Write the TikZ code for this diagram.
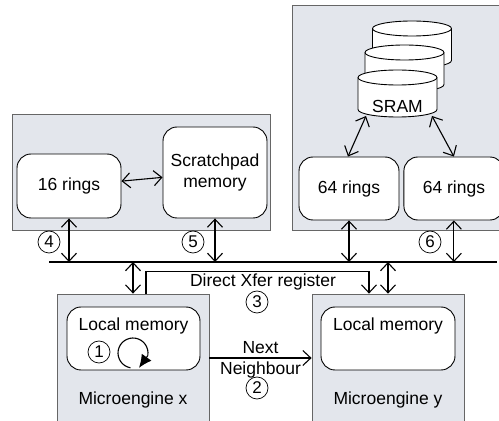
\documentclass[tikz,border=0pt]{standalone}
\usepackage{fontspec}
\setmainfont{Liberation Sans}
\usepackage{tikz}
\usetikzlibrary{
	positioning,
	arrows.meta,
	calc
}
\definecolor{boxgray}{HTML}{E3E6EC}

\tikzset{
	block/.style={draw=black!60, fill=boxgray, line width=0.8pt, inner sep=0pt},
	mem/.style={draw, fill=white, rounded corners=14pt, line width=0.9pt, inner sep=0pt, align=center},
	num/.style={draw, circle, minimum size=22pt, inner sep=0pt, line width=0.7pt, font=\fontsize{17}{17}\selectfont},
	barb/.tip={Straight Barb[length=8pt,width=15pt]},
	link/.style={barb-barb, line width=1.1pt},
	onelink/.style={-barb, line width=1.1pt},
	bus/.style={line width=2.4pt}
}

\begin{document}
\begin{tikzpicture}[x=1pt, y=1pt, font=\fontsize{17.5}{21}\selectfont]
	\clip (0,0) rectangle (499,421);

	% shaded blocks
	\node [block, minimum width=258pt, minimum height=116pt] (scratch) at (141,249)   {};
	\node [block, minimum width=213pt, minimum height=225pt] (sramblk) at (398.5,303.5) {};
	\node [block, minimum width=152pt, minimum height=132pt] (mex)     at (133,61)    {};
	\node [block, minimum width=152pt, minimum height=132pt] (mey)     at (388,61)    {};

	% memories and rings
	\node [mem, minimum width=104pt, minimum height=64pt]  (rings16) at (69,235)    {16 rings};
	\node [mem, minimum width=104pt, minimum height=91pt]  (spad)    at (215,248.5) {Scratchpad\\memory};
	\node [mem, minimum width=100pt, minimum height=63pt]  (ringsa)  at (349,232.5) {64 rings};
	\node [mem, minimum width=100pt, minimum height=63pt, right=4pt of ringsa] (ringsb) {64 rings};
	\node [mem, minimum width=133pt, minimum height=63pt]  (lmx)     at (133.5,82.5) {};
	\node [mem, minimum width=134pt, minimum height=63pt]  (lmy)     at (388,82.5)   {};
	\node [below=8pt of lmx.north, anchor=north] (lmxt) {Local memory};
	\node [below=8pt of lmy.north, anchor=north] (lmyt) {Local memory};
	\node at (133,21) (mext) {Microengine x};
	\node at (388,21) (meyt) {Microengine y};

	% SRAM banks
	\foreach \dx/\dy in {14.5/49, 7/25, 0/0} {
		\begin{scope}[shift={(\dx,\dy)}]
			\filldraw [fill=white, line width=0.9pt]
				(358,343.5) -- (358,311.5)
				arc [start angle=180, end angle=360, x radius=39.5pt, y radius=7.5pt]
				-- (437,343.5)
				arc [start angle=0, end angle=180, x radius=39.5pt, y radius=7.5pt] -- cycle;
			\draw [line width=0.9pt] (358,343.5)
				arc [start angle=180, end angle=360, x radius=39.5pt, y radius=7.5pt];
		\end{scope}
	}
	\node at (397.5,315) (sram) {SRAM};
	\coordinate (sraml) at (366,305);
	\coordinate (sramr) at (432,305);

	% bus
	\coordinate (busl) at (49,159);
	\coordinate (busr) at (497,159);
	\draw [bus] (busl) -- (busr);

	% connectors
	\draw [link] (rings16) -- (spad);
	\draw [link] (sraml) -- ([xshift=-1pt]ringsa.north);
	\draw [link] (sramr) -- (ringsb.north);
	\draw [link] (rings16.south) -- (rings16.south |- busl);
	\draw [link] (spad.south)    -- (spad.south |- busl);
	\draw [link] (ringsa.south)  -- (ringsa.south |- busl);
	\draw [link] (ringsb.south)  -- (ringsb.south |- busl);
	\draw [link] (mex.north |- busl) -- (mex.north);
	\draw [link] (mey.north |- busl) -- (mey.north);
	\draw [onelink] ([xshift=13pt]mex.north) -- ++(0,22) -| ([xshift=-19pt]mey.north);
	\draw [onelink] ([yshift=2pt]mex.east) -- ([yshift=2pt]mey.west)
		node [midway, above=0pt] (nnt) {Next}
		node [midway, below=0pt] (nnb) {Neighbour};

	% labels
	\node at (263,139) (xfer) {Direct Xfer register};
	\node [num] at (257,119) (n3) {3};
	\node [num] at (257,33)  (n2) {2};
	\node [num] at (99,69)   (n1) {1};
	\node [num] at (49,179)  (n4) {4};
	\node [num] at (193,179) (n5) {5};
	\node [num] at (430,179) (n6) {6};

	% local loop
	\coordinate (spin) at (133,68);
	\draw [line width=1.1pt]
		([shift={(260:15pt)}]spin) arc [start angle=260, end angle=-10, radius=15pt];
	\draw [-{Latex[length=13pt,width=12pt]}, line width=1.1pt]
		([shift={(-10:15pt)}]spin) -- ([shift={(-68:16pt)}]spin);
\end{tikzpicture}
\end{document}
